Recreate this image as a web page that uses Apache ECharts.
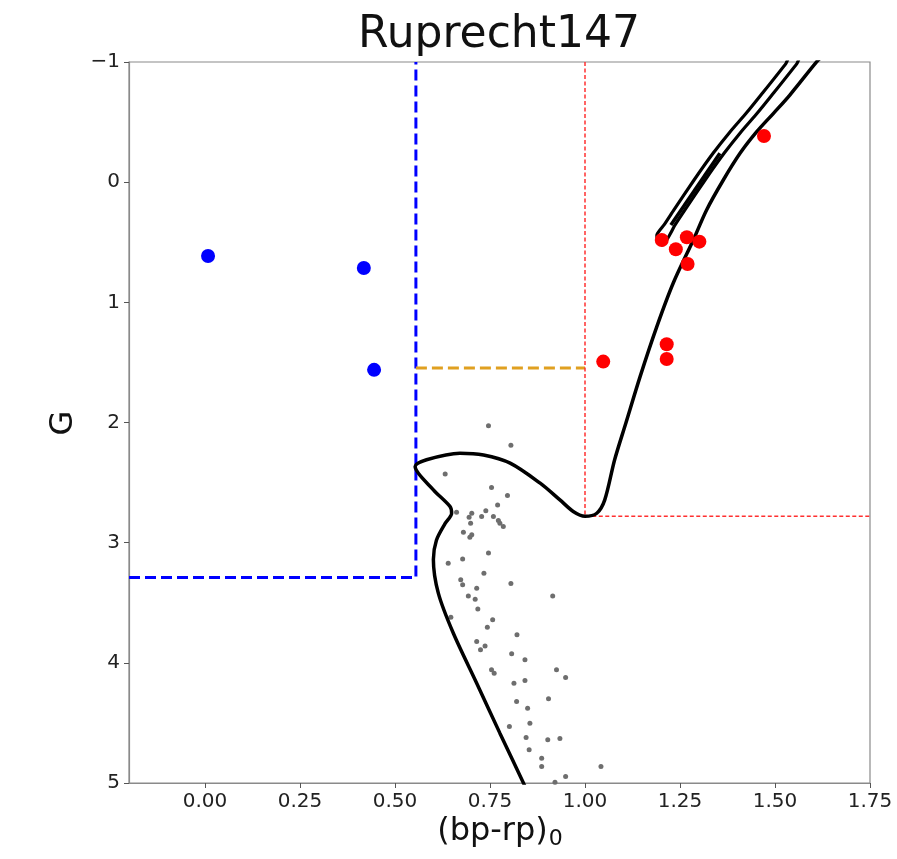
<!DOCTYPE html>
<html>
<head>
<meta charset="utf-8">
<script src="https://cdn.jsdelivr.net/npm/echarts@6/dist/echarts.min.js"></script>
<style>
html,body{margin:0;padding:0;background:#fff;}
#c{width:897px;height:859px;}
</style>
</head>
<body>
<div id="c"></div>
<script>
// ---- data ----
var xTicks = [0.00, 0.25, 0.50, 0.75, 1.00, 1.25, 1.50, 1.75];
var yTicks = [-1, 0, 1, 2, 3, 4, 5];

var bluePoints = [[0.008, 0.614], [0.418, 0.714], [0.445, 1.562]];
var redPoints = [[1.471, -0.384], [1.202, 0.481], [1.239, 0.558], [1.268, 0.458],
  [1.301, 0.495], [1.270, 0.681], [1.048, 1.493], [1.215, 1.349], [1.215, 1.471]];

var greyPoints = [
  [0.746,2.028],[0.805,2.189],[0.632,2.428],[0.754,2.541],[0.796,2.608],[0.770,2.686],
  [0.739,2.735],[0.702,2.755],[0.695,2.788],[0.662,2.747],[0.728,2.783],[0.759,2.783],
  [0.772,2.816],[0.785,2.866],[0.776,2.838],[0.699,2.838],[0.680,2.913],[0.702,2.935],
  [0.697,2.954],[0.746,3.087],[0.640,3.171],[0.678,3.135],[0.734,3.254],[0.805,3.340],
  [0.673,3.309],[0.678,3.351],[0.715,3.379],[0.693,3.443],[0.711,3.471],[0.718,3.553],
  [0.915,3.443],[0.647,3.620],[0.757,3.642],[0.743,3.703],[0.821,3.767],[0.715,3.823],
  [0.737,3.859],[0.725,3.892],[0.807,3.925],[0.842,3.975],[0.754,4.058],[0.761,4.086],
  [0.925,4.058],[0.949,4.122],[0.813,4.169],[0.842,4.147],[0.904,4.299],[0.820,4.322],
  [0.849,4.377],[0.855,4.502],[0.801,4.530],[0.845,4.621],[0.902,4.641],[0.934,4.630],
  [0.853,4.724],[0.886,4.793],[0.886,4.863],[1.042,4.863],[0.949,4.946],[0.921,4.993]
];

var isoMain = [
  [0.845,5.05],[0.838,5.0],[0.776,4.585],[0.715,4.17],[0.653,3.75],[0.614,3.42],[0.601,3.14],
  [0.609,2.98],[0.632,2.84],[0.649,2.755],[0.645,2.70],[0.601,2.56],[0.553,2.367],
  [0.583,2.31],[0.671,2.255],[0.733,2.27],[0.803,2.338],[0.882,2.505],[0.934,2.644],
  [0.969,2.74],[1.0,2.78],[1.031,2.755],[1.052,2.644],[1.078,2.31],[1.108,2.0],
  [1.145,1.618],[1.189,1.202],[1.232,0.841],[1.285,0.481],[1.320,0.231],[1.364,-0.018],
  [1.408,-0.240],[1.452,-0.420],[1.496,-0.573],[1.539,-0.725],[1.610,-1.003],[1.625,-1.05]
];
var isoLoop = [
  [1.536,-1.04],[1.529,-0.989],[1.463,-0.725],[1.424,-0.573],[1.382,-0.420],[1.337,-0.240],
  [1.287,-0.018],[1.234,0.231],[1.208,0.356],[1.189,0.439],[1.192,0.506],[1.205,0.522],
  [1.237,0.356],[1.263,0.231],[1.316,-0.018],[1.366,-0.240],[1.411,-0.420],[1.453,-0.573],
  [1.492,-0.725],[1.558,-0.989],[1.565,-1.04]
];
var isoInner = [[1.226,0.356],[1.355,-0.240]];

var blueBox = [[-0.2,3.29],[0.555,3.29],[0.555,-1]];
var orangeLine = [[0.555,1.546],[1.0,1.546]];
var redBox = [[1.0,-1],[1.0,2.78],[1.75,2.78]];

// ---- chart ----
var chart = echarts.init(document.getElementById('c'), null, {renderer:'canvas'});
var FONT = 'DejaVu Sans';
function lineSeries(data, color, width, type, z){
  return {type:'line', data:data, showSymbol:false, symbol:'none', silent:true,
    lineStyle:{color:color, width:width, type:type, cap:'butt', join:'round'}, z:z||2, animation:false};
}
var option = {
  animation:false,
  backgroundColor:'#fff',
  grid:{left:129, right:27, top:62, bottom:76, show:true, borderColor:'#8a8a8a', borderWidth:1.2, backgroundColor:'transparent'},
  xAxis:{type:'value', min:-0.2, max:1.75,
    axisLine:{show:true, onZero:false, lineStyle:{color:'#8a8a8a', width:1.2}},
    splitLine:{show:false},
    axisTick:{show:true, length:5, customValues:xTicks, lineStyle:{color:'#555'}},
    axisLabel:{customValues:xTicks, fontFamily:FONT, fontSize:20, color:'#222', margin:9,
      formatter:function(v){return v.toFixed(2);}}
  },
  yAxis:{type:'value', min:-1, max:5, interval:1, inverse:true,
    axisLine:{show:true, onZero:false, lineStyle:{color:'#8a8a8a', width:1.2}},
    splitLine:{show:false},
    axisTick:{show:true, length:5, lineStyle:{color:'#555'}},
    axisLabel:{fontFamily:FONT, fontSize:20, color:'#222', margin:9,
      formatter:function(v){return String(v).replace('-','\u2212');}}
  },
  graphic:[
    {type:'text', x:499, y:36, style:{text:'Ruprecht147', font:'44px "DejaVu Sans"', fill:'#111', align:'center', verticalAlign:'middle'}},
    {type:'text', x:64, y:423, rotation:Math.PI/2, style:{text:'G', font:'32px "DejaVu Sans"', fill:'#111', align:'center', verticalAlign:'middle'}},
    {type:'text', x:500, y:832, style:{text:'{a|(bp-rp)}{b|0}', align:'center', verticalAlign:'middle', fill:'#111',
      rich:{a:{fontFamily:FONT, fontSize:32, fill:'#111'}, b:{fontFamily:FONT, fontSize:22, fill:'#111', verticalAlign:'bottom', padding:[14,0,0,1]}}}}
  ],
  series:[
    lineSeries(blueBox, '#0000ff', 3, [11,5], 3),
    lineSeries(orangeLine, '#e0a020', 3, [11,5], 3),
    lineSeries(redBox, '#ff3030', 1.5, [4,2.5], 3),
    {type:'line', data:isoMain, showSymbol:false, symbol:'none', smooth:0.3, silent:true, clip:true,
      lineStyle:{color:'#000', width:3.5}, z:4},
    {type:'line', data:isoLoop, showSymbol:false, symbol:'none', smooth:0.15, silent:true, clip:true,
      lineStyle:{color:'#000', width:3.2}, z:4},
    {type:'line', data:isoInner, showSymbol:false, symbol:'none', silent:true,
      lineStyle:{color:'#000', width:3.5}, z:4},
    {type:'scatter', data:greyPoints, symbolSize:5, itemStyle:{color:'#6e6e6e', opacity:1}, z:2, silent:true},
    {type:'scatter', data:bluePoints, symbolSize:14, itemStyle:{color:'#0000ff', opacity:1}, z:5, silent:true},
    {type:'scatter', data:redPoints, symbolSize:14, itemStyle:{color:'#ff0000', opacity:1}, z:5, silent:true}
  ]
};
chart.setOption(option);
</script>
</body>
</html>
